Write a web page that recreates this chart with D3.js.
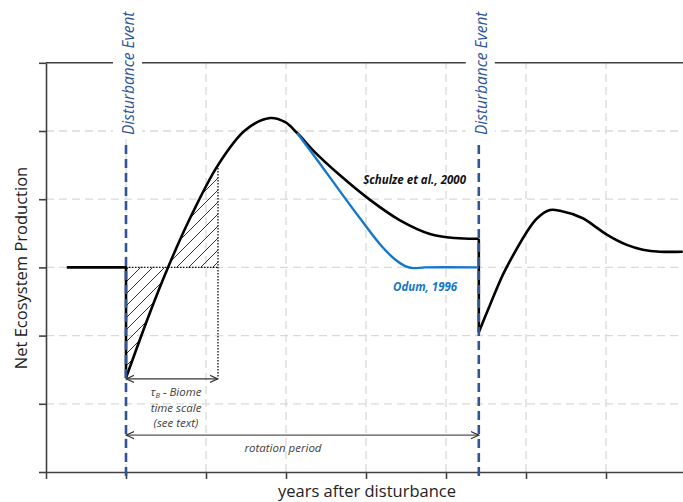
<!DOCTYPE html>
<html>
<head>
    <meta charset="utf-8">
    <title>Net Ecosystem Production</title>
    <script type="text/javascript" src="https://cdn.jsdelivr.net/npm/d3@7"></script>
    <style>
        body { margin: 0; background: #fff; }
        svg { display: block; }
    </style>
</head>
<body>
<script type="text/javascript">

    // values (x = years after disturbance, y = NEP in axis units)
    var steadyYears = [0.26, 1.0],
        steadyNep = [3.0, 3.0];

    var schulzeYears = [1.0, 1.3, 1.525, 1.8, 2.15, 2.49, 2.8, 2.99, 3.14, 3.36, 3.675, 4.05, 4.425, 4.8, 5.11, 5.41],
        schulzeNep = [1.38, 2.34, 3.0, 3.72, 4.5, 5.01, 5.19, 5.13, 4.97, 4.69, 4.35, 3.99, 3.69, 3.49, 3.43, 3.42];

    var odumYears = [3.14, 3.425, 3.71, 3.925, 4.175, 4.36, 4.49, 4.59, 4.74, 5.41],
        odumNep = [4.97, 4.52, 4.06, 3.72, 3.34, 3.12, 3.02, 2.99, 3.0, 3.0];

    var secondYears = [5.41, 5.55, 5.71, 5.84, 6.01, 6.14, 6.30, 6.425, 6.71, 6.84, 7.01, 7.26, 7.46, 7.675, 7.96],
        secondNep = [2.05, 2.45, 2.89, 3.18, 3.52, 3.72, 3.84, 3.83, 3.72, 3.62, 3.48, 3.33, 3.26, 3.23, 3.23];

    var disturbanceYears = [1.0, 5.41],
        biomeEnd = 2.15,
        rotationLevel = 0.54,
        xTicks = [0, 1, 2, 3, 4, 5, 6, 7],
        yTicks = [0, 1, 2, 3, 4, 5, 6];

    var width = 683, height = 502;

    var x = d3.scaleLinear().domain([0, 7.9625]).range([46, 683]),
        y = d3.scaleLinear().domain([0, 6]).range([472, 62.8]);

    var svg = d3.select("body").append("svg")
            .attr("width", width)
            .attr("height", height);

    function pairs(xs, ys)
    {
        return xs.map(function (d, i) { return [d, ys[i]]; });
    }

    var smooth = d3.curveCatmullRom.alpha(0.5);

    var line = d3.line()
            .x(function (d) { return x(d[0]); })
            .y(function (d) { return y(d[1]); })
            .curve(smooth);

    var straight = d3.line()
            .x(function (d) { return x(d[0]); })
            .y(function (d) { return y(d[1]); });

    var defs = svg.append("defs");

    // hatch pattern for the tau_B area
    var pat = defs.append("pattern")
            .attr("id", "hatch")
            .attr("patternUnits", "userSpaceOnUse")
            .attr("width", 12)
            .attr("height", 12);
    pat.append("path")
            .attr("d", "M0,12L12,0M-3,3L3,-3M9,15L15,9")
            .attr("stroke", "#333")
            .attr("stroke-width", 1);

    defs.append("clipPath")
            .attr("id", "biome-clip")
            .append("rect")
            .attr("x", x(1))
            .attr("y", 0)
            .attr("width", x(biomeEnd) - x(1))
            .attr("height", height);

    // open arrow head, used on both ends
    defs.append("marker")
            .attr("id", "arrow")
            .attr("viewBox", "0 -5 10 10")
            .attr("refX", 9)
            .attr("refY", 0)
            .attr("markerUnits", "userSpaceOnUse")
            .attr("markerWidth", 9)
            .attr("markerHeight", 9)
            .attr("orient", "auto-start-reverse")
            .append("path")
            .attr("d", "M0,-4L9,0L0,4")
            .attr("fill", "none")
            .attr("stroke", "#333")
            .attr("stroke-width", 1.3);

    // grid lines
    var grid = svg.append("g").attr("class", "grid")
            .attr("stroke", "#d9d9d9")
            .attr("stroke-width", 1.3)
            .attr("stroke-dasharray", "8,5");

    grid.selectAll("line.h")
            .data(yTicks.slice(1, 6))
            .enter().append("line")
            .attr("class", "h")
            .attr("x1", x(0)).attr("x2", width)
            .attr("y1", function (d) { return y(d); })
            .attr("y2", function (d) { return y(d); });

    grid.selectAll("line.v")
            .data(xTicks.slice(1))
            .enter().append("line")
            .attr("class", "v")
            .attr("y1", y(0)).attr("y2", y(6))
            .attr("x1", function (d) { return x(d); })
            .attr("x2", function (d) { return x(d); });

    // axes, no tick labels
    var yAxis = d3.axisLeft(y).tickValues(yTicks).tickSize(7).tickSizeOuter(0).tickFormat("");
    var xAxis = d3.axisBottom(x).tickValues(xTicks).tickSize(7).tickSizeOuter(0).tickFormat("");

    svg.append("g")
            .attr("class", "axis")
            .attr("transform", "translate(" + x(0) + ",0)")
            .call(yAxis);

    svg.append("g")
            .attr("class", "axis")
            .attr("transform", "translate(0," + y(0) + ")")
            .call(xAxis);

    svg.selectAll(".axis path, .axis line")
            .attr("stroke", "#404040")
            .attr("stroke-width", 1.6);

    // top frame line
    svg.append("line")
            .attr("x1", x(0)).attr("x2", width)
            .attr("y1", y(6)).attr("y2", y(6))
            .attr("stroke", "#404040")
            .attr("stroke-width", 1.6);

    // hatched area between curve and steady state level
    var area = d3.area()
            .x(function (d) { return x(d[0]); })
            .y0(y(3))
            .y1(function (d) { return y(d[1]); })
            .curve(smooth);

    svg.append("path")
            .datum(pairs(schulzeYears, schulzeNep))
            .attr("d", area)
            .attr("fill", "url(#hatch)")
            .attr("clip-path", "url(#biome-clip)");

    // dotted box edges
    var dotted = svg.append("g")
            .attr("stroke", "#111")
            .attr("stroke-width", 1.3)
            .attr("stroke-dasharray", "1.5,1.5");
    dotted.append("line")
            .attr("x1", x(1)).attr("x2", x(biomeEnd))
            .attr("y1", y(3)).attr("y2", y(3));
    dotted.append("line")
            .attr("x1", x(biomeEnd)).attr("x2", x(biomeEnd))
            .attr("y1", y(schulzeNep[4])).attr("y2", y(schulzeNep[0]));

    // arrows
    svg.append("line")
            .attr("x1", x(1)).attr("x2", x(biomeEnd))
            .attr("y1", y(schulzeNep[0]) + 1).attr("y2", y(schulzeNep[0]) + 1)
            .attr("stroke", "#333").attr("stroke-width", 1.3)
            .attr("marker-start", "url(#arrow)")
            .attr("marker-end", "url(#arrow)");

    svg.append("line")
            .attr("x1", x(disturbanceYears[0])).attr("x2", x(disturbanceYears[1]))
            .attr("y1", y(rotationLevel)).attr("y2", y(rotationLevel))
            .attr("stroke", "#555").attr("stroke-width", 1.2)
            .attr("marker-start", "url(#arrow)")
            .attr("marker-end", "url(#arrow)");

    // curves
    var black = svg.append("g")
            .attr("fill", "none")
            .attr("stroke", "#000")
            .attr("stroke-width", 2.6)
            .attr("stroke-linejoin", "round");

    black.append("path")
            .datum(pairs(steadyYears, steadyNep).concat([[1, schulzeNep[0]]]))
            .attr("d", straight);

    black.append("path")
            .datum([[schulzeYears[15], schulzeNep[15]], [secondYears[0], secondNep[0]]])
            .attr("d", straight);

    svg.append("path")
            .datum(pairs(odumYears, odumNep))
            .attr("d", line)
            .attr("fill", "none")
            .attr("stroke", "#1677c8")
            .attr("stroke-width", 2.4);

    black.append("path")
            .datum(pairs(schulzeYears, schulzeNep))
            .attr("d", line);

    black.append("path")
            .datum(pairs(secondYears, secondNep))
            .attr("d", line);

    // disturbance events
    var events = svg.selectAll("g.event")
            .data(disturbanceYears)
            .enter().append("g")
            .attr("class", "event");

    events.append("rect")
            .attr("x", function (d) { return x(d) - 13; })
            .attr("y", 2)
            .attr("width", 29)
            .attr("height", 137)
            .attr("fill", "#fff");

    events.append("line")
            .attr("x1", function (d) { return x(d); })
            .attr("x2", function (d) { return x(d); })
            .attr("y1", y(0) + 4)
            .attr("y2", 143)
            .attr("stroke", "#2f5597")
            .attr("stroke-width", 2.6)
            .attr("stroke-dasharray", "9,5");

    events.append("text")
            .attr("transform", function (d) { return "translate(" + (x(d) + 8) + ",135) rotate(-90)"; })
            .attr("font-family", "'Open Sans', sans-serif")
            .attr("font-style", "italic")
            .attr("font-size", "15.5px")
            .attr("fill", "#2f5597")
            .text("Disturbance Event");

    // series labels
    svg.append("text")
            .attr("x", 466).attr("y", 184)
            .attr("text-anchor", "end")
            .attr("font-family", "'Open Sans', sans-serif")
            .attr("font-style", "italic").attr("font-weight", "bold")
            .attr("font-size", "11.5px")
            .attr("fill", "#111")
            .text("Schulze et al., 2000");

    svg.append("text")
            .attr("x", 393).attr("y", 291)
            .attr("font-family", "'Open Sans', sans-serif")
            .attr("font-style", "italic").attr("font-weight", "bold")
            .attr("font-size", "11.5px")
            .attr("fill", "#1677c8")
            .text("Odum, 1996");

    // tau_B annotation
    var tau = svg.append("g")
            .attr("font-family", "'Open Sans', sans-serif")
            .attr("font-style", "italic")
            .attr("font-size", "11.5px")
            .attr("fill", "#404040")
            .attr("text-anchor", "middle");

    var t1 = tau.append("text").attr("x", 176).attr("y", 396);
    t1.append("tspan").text("\u03c4");
    t1.append("tspan").attr("font-size", "7.5px").attr("dy", 2).text("B");
    t1.append("tspan").attr("dy", -2).text(" - Biome");
    tau.append("text").attr("x", 176).attr("y", 412).text("time scale");
    tau.append("text").attr("x", 176).attr("y", 427).text("(see text)");

    tau.append("text").attr("x", 283).attr("y", 452).text("rotation period");

    // axis titles
    svg.append("text")
            .attr("transform", "translate(27,268) rotate(-90)")
            .attr("text-anchor", "middle")
            .attr("font-family", "'Open Sans', sans-serif")
            .attr("font-size", "16.5px")
            .attr("fill", "#222")
            .text("Net Ecosystem Production");

    svg.append("text")
            .attr("x", 367).attr("y", 497)
            .attr("text-anchor", "middle")
            .attr("font-family", "'Open Sans', sans-serif")
            .attr("font-size", "16.5px")
            .attr("fill", "#222")
            .text("years after disturbance");

</script>
</body>
</html>
